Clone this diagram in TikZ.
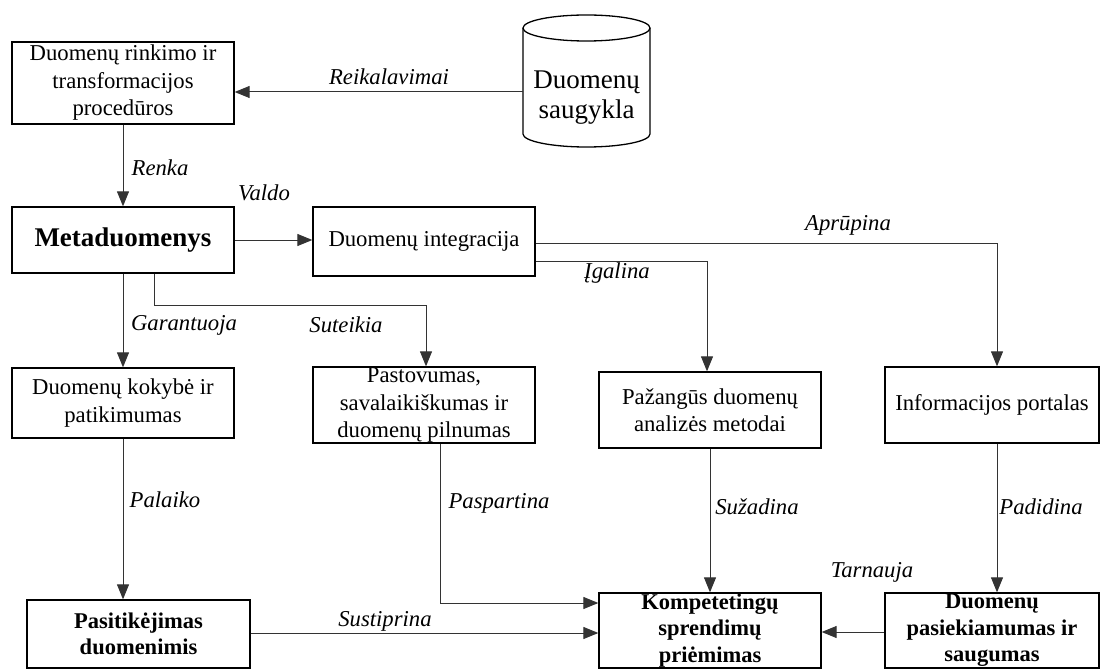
\documentclass[tikz,border=0pt]{standalone}
\usepackage{fontspec}
\setmainfont{Liberation Serif}
\usetikzlibrary{arrows.meta,calc}
\begin{document}
\begin{tikzpicture}[x=1pt,y=1pt,
  box/.style={draw, line width=1.3pt, inner sep=0pt, align=center, font=\fontsize{22.7}{27.5}\selectfont},
  bbox/.style={box, font=\bfseries\fontsize{22.5}{26.5}\selectfont},
  lbl/.style={font=\itshape\fontsize{22.7}{26}\selectfont, inner sep=0pt},
  arr/.style={draw=black!80, line width=1pt, -{Triangle[length=15pt,width=12pt]}},
  ]
\useasboundingbox (0,0) rectangle (1100,-671);
% boxes
\node[box, minimum width=222pt, minimum height=82pt] (A) at (123,-83) {Duomenų rinkimo ir\\transformacijos\\procedūros};
\node[box, minimum width=222pt, minimum height=66pt, font=\bfseries\fontsize{27}{30}\selectfont] (M) at (123,-240) {Metaduomenys};
\node[box, minimum width=222pt, minimum height=69pt] (DI) at (424,-241.5) {Duomenų integracija};
\node[box, minimum width=222pt, minimum height=70pt] (KB) at (123,-403) {Duomenų kokybė ir\\patikimumas};
\node[box, minimum width=222pt, minimum height=76pt] (P) at (424,-405) {Pastovumas,\\savalaikiškumas ir\\duomenų pilnumas};
\node[box, minimum width=222pt, minimum height=76pt] (PZ) at (710,-410) {Pažangūs duomenų\\analizės metodai};
\node[box, minimum width=214pt, minimum height=76pt] (IP) at (992,-405) {Informacijos portalas};
\node[bbox, minimum width=223pt, minimum height=68pt] (Pas) at (138.5,-634) {Pasitikėjimas\\duomenimis};
\node[bbox, minimum width=222pt, minimum height=75pt] (K) at (710,-630.5) {Kompetetingų\\sprendimų\\priėmimas};
\node[bbox, minimum width=214pt, minimum height=75pt] (D) at (992,-630.5) {Duomenų\\pasiekiamumas ir\\saugumas};
% cylinder
\node[inner sep=0pt, minimum width=127pt, align=center, font=\fontsize{27}{30}\selectfont] (cyl) at (586.5,-98) {Duomenų\\saugykla};
\draw[line width=1.3pt] (523,-28) -- (523,-134) arc[start angle=180,end angle=360,x radius=63.5pt,y radius=13pt] -- (650,-28);
\draw[line width=1.3pt] (586.5,-28) ellipse[x radius=63.5pt, y radius=13pt];
% connectors
\draw[arr] (cyl.west |- 0,-92) -- (A.east |- 0,-92);
\draw[arr] (A.south) -- (M.north);
\draw[arr] (M.east) -- (DI.west |- M.east);
\draw[arr] (DI.east |- 0,-243) -| ([xshift=5pt]IP.north);
\draw[arr] (DI.east |- 0,-261) -| ([xshift=-3pt]PZ.north);
\draw[arr] (M.south) -- (KB.north);
\draw[arr] (M.south -| 154,0) -- (154,-305) -| ([xshift=2pt]P.north);
\draw[arr] (KB.south) -- (Pas.north -| KB.south);
\draw[arr] (P.south -| 440,0) -- (440,-603) -- (K.west |- 0,-603);
\draw[arr] (Pas.east |- 0,-633) -- (K.west |- 0,-633);
\draw[arr] (PZ.south) -- (K.north);
\draw[arr] ([xshift=5pt]IP.south) -- ([xshift=5pt]D.north);
\draw[arr] (D.west |- 0,-632) -- (K.east |- 0,-632);
% labels
\node[lbl] (lReik) at (389,-77) {Reikalavimai};
\node[lbl] (lRenka) at (160,-168) {Renka};
\node[lbl] (lValdo) at (264,-193) {Valdo};
\node[lbl] (lApr) at (848,-225) {Aprūpina};
\node[lbl] (lIgal) at (617,-273) {Įgalina};
\node[lbl] (lGar) at (184,-325) {Garantuoja};
\node[lbl] (lSut) at (346,-325) {Suteikia};
\node[lbl] (lPal) at (165,-500) {Palaiko};
\node[lbl] (lPasp) at (499,-503) {Paspartina};
\node[lbl] (lSuz) at (757,-507) {Sužadina};
\node[lbl] (lPad) at (1041,-507) {Padidina};
\node[lbl] (lTarn) at (872,-572) {Tarnauja};
\node[lbl] (lSust) at (385,-621) {Sustiprina};
\end{tikzpicture}
\end{document}
